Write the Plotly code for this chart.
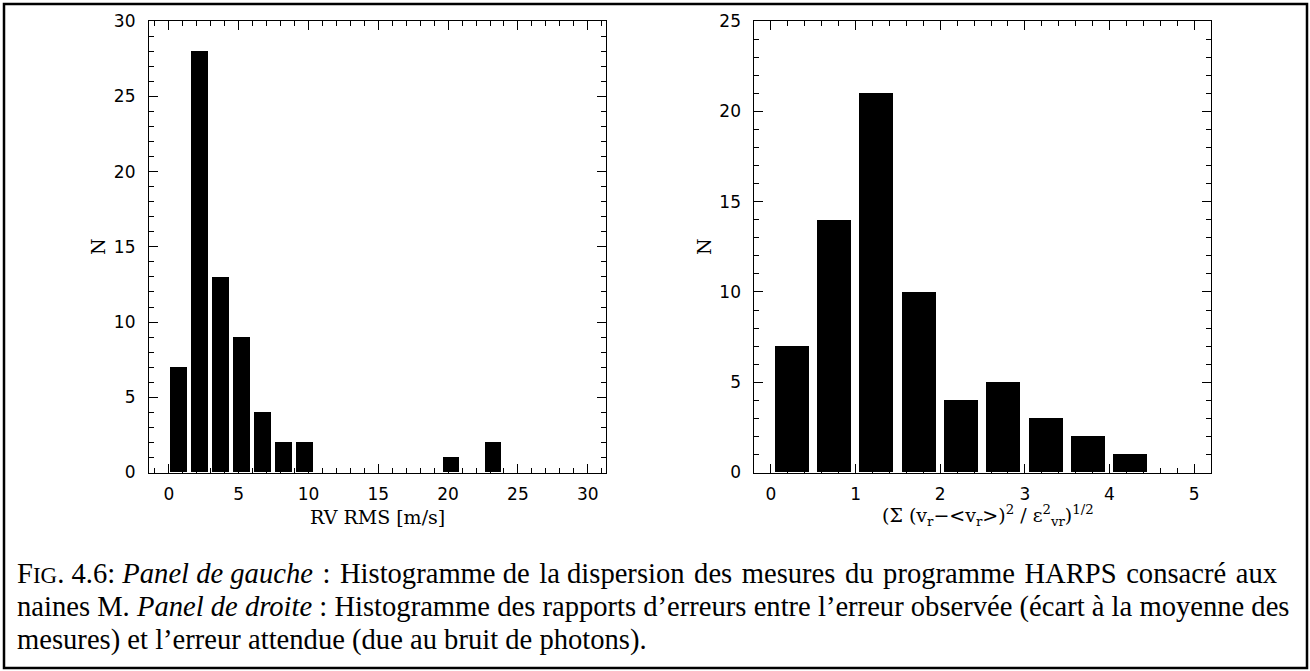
import plotly.graph_objects as go

# ---- data ----
rms_bin_centers = [0.7, 2.2, 3.7, 5.2, 6.7, 8.2, 9.7, 20.2, 23.2]
rms_counts = [7, 28, 13, 9, 4, 2, 2, 1, 2]

ratio_bin_centers = [0.25, 0.75, 1.25, 1.75, 2.25, 2.75, 3.25, 3.75, 4.25]
ratio_counts = [7, 14, 21, 10, 4, 5, 3, 2, 1]

left_xticks = [0, 5, 10, 15, 20, 25, 30]
left_yticks = [0, 5, 10, 15, 20, 25, 30]
right_xticks = [0, 1, 2, 3, 4, 5]
right_yticks = [0, 5, 10, 15, 20, 25]

caption_lines = [
    "F<span style=\"font-size:23px\">IG</span>. 4.6: <i>Panel de gauche</i> : Histogramme de la dispersion des mesures du programme HARPS consacré aux",
    "naines M. <i>Panel de droite</i> : Histogramme des rapports d’erreurs entre l’erreur observée (écart à la moyenne des",
    "mesures) et l’erreur attendue (due au bruit de photons).",
]

W, H = 1310, 671

fig = go.Figure()
fig.add_trace(go.Bar(x=rms_bin_centers, y=rms_counts, width=1.2,
                     marker=dict(color="black", line=dict(width=0)),
                     xaxis="x", yaxis="y", showlegend=False, hoverinfo="skip"))
fig.add_trace(go.Bar(x=ratio_bin_centers, y=ratio_counts, width=0.4,
                     marker=dict(color="black", line=dict(width=0)),
                     xaxis="x2", yaxis="y2", showlegend=False, hoverinfo="skip"))

tickfont = dict(family="DejaVu Sans", size=17, color="black")

def axis_common(major, minor_dtick, rng, domain, anchor):
    return dict(
        range=rng, domain=domain, anchor=anchor, automargin=False,
        tickmode="array", tickvals=major, ticktext=[str(v) for v in major],
        ticks="inside", ticklen=9, tickwidth=1, tickcolor="black",
        minor=dict(dtick=minor_dtick, ticks="inside", ticklen=5, tickwidth=1, tickcolor="black", showgrid=False),
        showline=True, linecolor="black", linewidth=1, mirror="allticks",
        showgrid=False, zeroline=False, tickfont=tickfont,
    )

ydom = [1 - 472.5 / H, 1 - 21.2 / H]
xdom_l = [148.9 / W, 605.9 / W]
xdom_r = [754.4 / W, 1211.1 / W]

xa = axis_common(left_xticks, 1, [-1.43, 31.3], xdom_l, "y")
ya = axis_common(left_yticks, 1, [0, 30], ydom, "x")
xa2 = axis_common(right_xticks, 0.2, [-0.195, 5.2], xdom_r, "y2")
ya2 = axis_common(right_yticks, 1, [0, 25], ydom, "x2")
for ax in (xa, xa2):
    ax["ticklabelstandoff"] = 6
for ax in (ya, ya2):
    ax["ticklabelstandoff"] = 9

annotations = []
titlefont = dict(family="DejaVu Serif", size=19, color="black")
annotations.append(dict(text="RV RMS [m/s]", x=(xdom_l[0] + xdom_l[1]) / 2, y=1 - 517 / H,
                        xref="paper", yref="paper", showarrow=False, font=titlefont,
                        xanchor="center", yanchor="middle"))
annotations.append(dict(
    text="(Σ (v<sub>r</sub>−&lt;v<sub>r</sub>&gt;)<sup>2</sup> / ε<sup>2</sup><sub>vr</sub>)<sup>1/2</sup>",
    x=(xdom_r[0] + xdom_r[1]) / 2 + 5 / W, y=1 - 515 / H,
    xref="paper", yref="paper", showarrow=False, font=titlefont,
    xanchor="center", yanchor="middle"))
annotations.append(dict(text="N", x=98 / W, y=1 - 247 / H, xref="paper", yref="paper",
                        showarrow=False, font=titlefont, textangle=-90,
                        xanchor="center", yanchor="middle"))
annotations.append(dict(text="N", x=704 / W, y=1 - 247 / H, xref="paper", yref="paper",
                        showarrow=False, font=titlefont, textangle=-90,
                        xanchor="center", yanchor="middle"))

capfont = dict(family="Liberation Serif", size=28.6, color="black")
# first line is justified in the reference: widen its word gaps slightly
caption_display = [caption_lines[0].replace(" : ", " \u200a:\u200a ").replace("de la", "de\u200a la")
                   .replace(" des ", " \u200ades\u200a ").replace(" du ", " \u200adu\u200a ")
                   .replace(" HARPS ", " \u200aHARPS\u200a ").replace(" aux", " \u200aaux"),
                   caption_lines[1], caption_lines[2]]
for i, (line, yc) in enumerate(zip(caption_display, [573, 607, 640])):
    annotations.append(dict(text=line, x=15 / W, y=1 - yc / H, xref="paper", yref="paper",
                            showarrow=False, font=capfont, xanchor="left", yanchor="middle",
                            align="left"))

fig.update_layout(
    template="none",
    width=W, height=H,
    margin=dict(l=0, r=0, t=0, b=0, autoexpand=False),
    paper_bgcolor="white", plot_bgcolor="white",
    xaxis=xa, yaxis=ya, xaxis2=xa2, yaxis2=ya2,
    annotations=annotations,
    bargap=0,
    hovermode=False,
    shapes=[dict(type="rect", xref="paper", yref="paper",
                 x0=4 / W, x1=1307 / W, y0=1 - 668 / H, y1=1 - 4 / H,
                 line=dict(color="black", width=2.5))],
)

fig.write_html("out.html", config={"displayModeBar": False},
               post_script="document.body.style.margin='0px';document.body.style.overflow='hidden';")
